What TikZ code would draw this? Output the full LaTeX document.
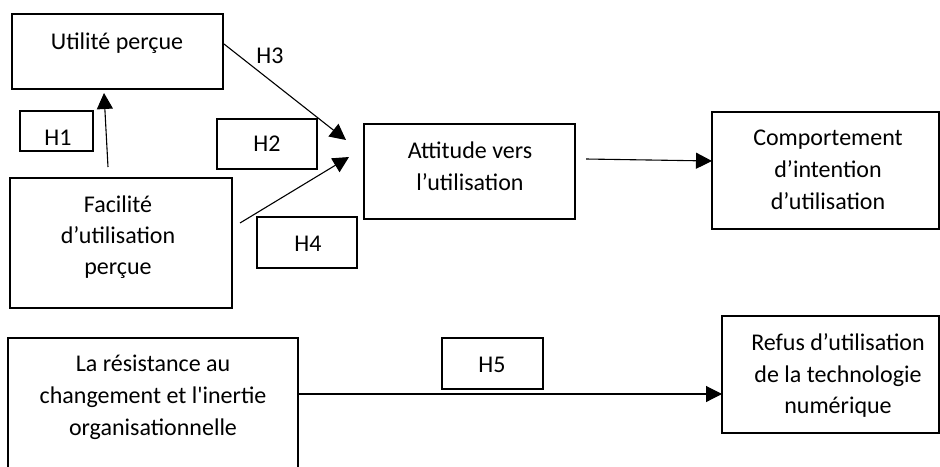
\documentclass[tikz,border=0pt]{standalone}
\usepackage{fontspec}
\setmainfont{Carlito}[Ligatures=TeXOff]
\usetikzlibrary{arrows.meta}
\begin{document}
\begin{tikzpicture}[x=0.5pt,y=-0.5pt,
  box/.style={draw, line width=0.65pt, rectangle, inner sep=0pt, outer sep=0pt},
  txt/.style={anchor=base, inner sep=0pt, font=\fontsize{12}{16}\selectfont},
  conn/.style={line width=0.55pt, -{Triangle[length=8pt,width=8pt]}}]
\useasboundingbox (0,0) rectangle (940,466);
\clip (0,0) rectangle (940,466);
% boxes
\node[box, minimum width=105.5pt, minimum height=37.5pt] (util) at (117.5,51.5) {};
\node[box, minimum width=111pt, minimum height=65pt] (fac) at (121,243) {};
\node[box, minimum width=105.5pt, minimum height=47.5pt] (att) at (469.5,171.5) {};
\node[box, minimum width=113.5pt, minimum height=58.5pt] (comp) at (825.5,170.5) {};
\node[box, minimum width=145pt, minimum height=76pt] (res) at (153,414) {};
\node[box, minimum width=108.5pt, minimum height=58.5pt] (refus) at (830.5,374.5) {};
\node[box, minimum width=36.5pt, minimum height=20pt] (h1) at (56.5,131) {};
\node[box, minimum width=50pt, minimum height=25pt] (h2) at (267,144) {};
\node[box, minimum width=50pt, minimum height=25.5pt] (h4) at (307,242.5) {};
\node[box, minimum width=50.5pt, minimum height=25.5pt] (h5) at (492.5,363.5) {};
% texts
\node[txt] (utilA) at (117,49) {Utilité perçue};
\node[txt] (facA) at (118,212) {Facilité};
\node[txt] (facB) at (118,243) {d’utilisation};
\node[txt] (facC) at (118,274) {perçue};
\node[txt] (attA) at (470,158) {Attitude vers};
\node[txt] (attB) at (470,190) {l’utilisation};
\node[txt] (compA) at (828,145) {Comportement};
\node[txt] (compB) at (828,177) {d’intention};
\node[txt] (compC) at (828,209) {d’utilisation};
\node[txt] (resA) at (153,371) {La résistance au};
\node[txt] (resB) at (153,403) {changement et l'inertie};
\node[txt] (resC) at (153,435) {organisationnelle};
\node[txt] (refA) at (838,350) {Refus d’utilisation};
\node[txt] (refB) at (838,382) {de la technologie};
\node[txt] (refC) at (838,413) {numérique};
\node[txt] (h1t) at (58,145) {H1};
\node[txt] (h2t) at (267,151) {H2};
\node[txt] (h3t) at (270,63) {H3};
\node[txt] (h4t) at (308,251) {H4};
\node[txt] (h5t) at (492,372) {H5};
% connector ends
\coordinate (h1s) at (108,167);
\coordinate (h1e) at (104,93);
\coordinate (h3s) at (224,44);
\coordinate (h3e) at (346,140);
\coordinate (h4s) at (240,223);
\coordinate (h4e) at (349,157);
\coordinate (acs) at (586,159);
\coordinate (ace) at (712,161);
\coordinate (h5s) at (298,394);
\coordinate (h5e) at (722,394);
% connectors
\draw[conn] (h1s) -- (h1e);
\draw[conn] (h3s) -- (h3e);
\draw[conn] (h4s) -- (h4e);
\draw[conn] (acs) -- (ace);
\draw[conn] (h5s) -- (h5e);
\end{tikzpicture}
\end{document}
